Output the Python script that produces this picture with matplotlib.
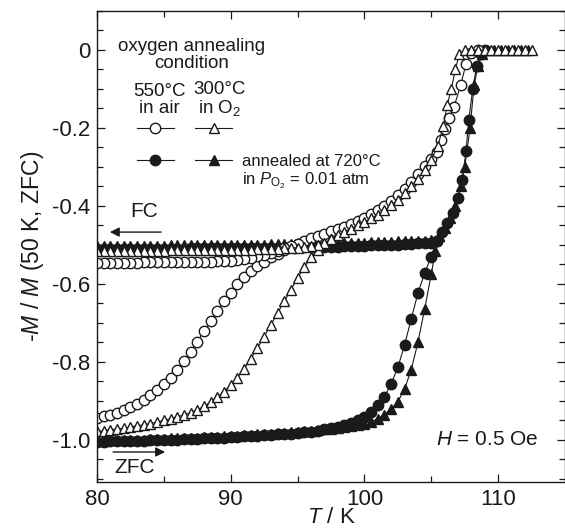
import matplotlib
matplotlib.use('Agg')
import matplotlib.pyplot as plt
from matplotlib.lines import Line2D
import numpy as np

plt.rcParams['font.family'] = ['Liberation Sans', 'DejaVu Sans']
plt.rcParams['mathtext.fontset'] = 'custom'
plt.rcParams['mathtext.rm'] = 'Liberation Sans'
plt.rcParams['mathtext.it'] = 'Liberation Sans:italic'
plt.rcParams['axes.unicode_minus'] = False

# ---- data: -M/M(50K,ZFC) vs T (K) ----
# each sample: ZFC branch (rising), reversible part (common), FC branch (cooling)

# 550 C in air (open circles)
A_zfc_T = [80.0, 80.5, 81.0, 81.5, 82.0, 82.5, 83.0, 83.5, 84.0, 84.5,
           85.0, 85.5, 86.0, 86.5, 87.0, 87.5, 88.0, 88.5, 89.0, 89.5,
           90.0, 90.5, 91.0, 91.5, 92.0, 92.5, 93.0, 93.5, 94.0, 94.5]
A_zfc_M = [-0.945, -0.940, -0.935, -0.930, -0.924, -0.916, -0.907, -0.897, -0.886, -0.872,
           -0.857, -0.840, -0.820, -0.798, -0.775, -0.748, -0.722, -0.696, -0.670, -0.645,
           -0.622, -0.600, -0.583, -0.568, -0.555, -0.543, -0.532, -0.522, -0.513, -0.505]
A_rev_T = [95.0, 95.5, 96.0, 96.5, 97.0, 97.5, 98.0, 98.5, 99.0, 99.5,
           100.0, 100.5, 101.0, 101.5, 102.0, 102.5, 103.0, 103.5, 104.0, 104.5,
           105.0, 105.4, 105.7, 106.0, 106.3, 106.7, 107.2, 107.6, 108.0, 108.5]
A_rev_M = [-0.497, -0.490, -0.483, -0.477, -0.471, -0.465, -0.459, -0.453, -0.447, -0.439,
           -0.430, -0.421, -0.411, -0.400, -0.387, -0.372, -0.356, -0.338, -0.318, -0.298,
           -0.280, -0.262, -0.232, -0.202, -0.175, -0.146, -0.090, -0.035, -0.008, 0.0]
A_fc_T = [94.5, 94.0, 93.5, 93.0, 92.5, 92.0, 91.5, 91.0, 90.5, 90.0,
          89.5, 89.0, 88.5, 88.0, 87.5, 87.0, 86.5, 86.0, 85.5, 85.0,
          84.5, 84.0, 83.5, 83.0, 82.5, 82.0, 81.5, 81.0, 80.5, 80.0]
A_fc_M = [-0.503, -0.509, -0.515, -0.520, -0.525, -0.529, -0.533, -0.536, -0.538, -0.540,
          -0.541, -0.542, -0.543, -0.543, -0.544, -0.544, -0.544, -0.545, -0.545, -0.545,
          -0.545, -0.545, -0.545, -0.546, -0.546, -0.546, -0.546, -0.546, -0.546, -0.546]

# 300 C in O2 (open triangles)
B_zfc_T = [80.0, 80.5, 81.0, 81.5, 82.0, 82.5, 83.0, 83.5, 84.0, 84.5,
           85.0, 85.5, 86.0, 86.5, 87.0, 87.5, 88.0, 88.5, 89.0, 89.5,
           90.0, 90.5, 91.0, 91.5, 92.0, 92.5, 93.0, 93.5, 94.0, 94.5,
           95.0, 95.5, 96.0, 96.5, 97.0]
B_zfc_M = [-0.978, -0.976, -0.974, -0.972, -0.970, -0.967, -0.964, -0.961, -0.958, -0.954,
           -0.950, -0.946, -0.941, -0.936, -0.930, -0.923, -0.914, -0.903, -0.890, -0.876,
           -0.860, -0.840, -0.818, -0.792, -0.764, -0.735, -0.705, -0.675, -0.645, -0.615,
           -0.585, -0.557, -0.532, -0.512, -0.497]
B_rev_T = [97.5, 98.0, 98.5, 99.0, 99.5, 100.0, 100.5, 101.0, 101.5, 102.0,
           102.5, 103.0, 103.5, 104.0, 104.5, 105.0, 105.5, 105.9, 106.2, 106.5,
           106.8, 107.1, 107.5, 108.0, 108.5, 109.0, 109.5, 110.0, 110.5, 111.0,
           111.5, 112.0, 112.5]
B_rev_M = [-0.485, -0.475, -0.466, -0.458, -0.450, -0.441, -0.432, -0.422, -0.411, -0.398,
           -0.384, -0.368, -0.350, -0.330, -0.308, -0.282, -0.245, -0.195, -0.140, -0.100,
           -0.050, -0.010, 0.0, 0.0, 0.0, 0.0, 0.0, 0.0, 0.0, 0.0,
           0.0, 0.0, 0.0]
B_fc_T = [97.0, 96.5, 96.0, 95.5, 95.0, 94.5, 94.0, 93.5, 93.0, 92.5,
          92.0, 91.5, 91.0, 90.5, 90.0, 89.5, 89.0, 88.5, 88.0, 87.5,
          87.0, 86.5, 86.0, 85.5, 85.0, 84.5, 84.0, 83.5, 83.0, 82.5,
          82.0, 81.5, 81.0, 80.5, 80.0]
B_fc_M = [-0.496, -0.500, -0.503, -0.505, -0.507, -0.508, -0.509, -0.510, -0.510, -0.511,
          -0.511, -0.512, -0.512, -0.512, -0.513, -0.513, -0.513, -0.513, -0.514, -0.514,
          -0.514, -0.514, -0.514, -0.514, -0.515, -0.515, -0.515, -0.515, -0.515, -0.515,
          -0.515, -0.515, -0.515, -0.515, -0.515]

# 720 C in PO2 = 0.01 atm (filled circles)
C_zfc_T = [80.0, 80.5, 81.0, 81.5, 82.0, 82.5, 83.0, 83.5, 84.0, 84.5,
           85.0, 85.5, 86.0, 86.5, 87.0, 87.5, 88.0, 88.5, 89.0, 89.5,
           90.0, 90.5, 91.0, 91.5, 92.0, 92.5, 93.0, 93.5, 94.0, 94.5,
           95.0, 95.5, 96.0, 96.5, 97.0, 97.5, 98.0, 98.5, 99.0, 99.5,
           100.0, 100.5, 101.0, 101.5, 102.0, 102.5, 103.0, 103.5, 104.0, 104.5,
           105.0]
C_zfc_M = [-1.005, -1.005, -1.004, -1.004, -1.003, -1.003, -1.002, -1.002, -1.001, -1.000,
           -1.000, -0.999, -0.999, -0.998, -0.997, -0.997, -0.996, -0.995, -0.995, -0.994,
           -0.993, -0.992, -0.991, -0.990, -0.989, -0.988, -0.987, -0.986, -0.985, -0.984,
           -0.983, -0.981, -0.979, -0.976, -0.973, -0.970, -0.966, -0.962, -0.957, -0.950,
           -0.941, -0.928, -0.910, -0.889, -0.856, -0.814, -0.757, -0.690, -0.624, -0.572,
           -0.530]
C_rev_T = [105.4, 105.8, 106.2, 106.6, 107.0, 107.3, 107.6, 107.8, 108.1, 108.4, 108.7, 109.0]
C_rev_M = [-0.490, -0.466, -0.444, -0.418, -0.380, -0.333, -0.260, -0.180, -0.100, -0.040, -0.010, 0.0]
C_fc_T = [105.0, 104.5, 104.0, 103.5, 103.0, 102.5, 102.0, 101.5, 101.0, 100.5,
          100.0, 99.5, 99.0, 98.5, 98.0, 97.5, 97.0, 96.5, 96.0, 95.5,
          95.0, 94.5, 94.0, 93.5, 93.0, 92.5, 92.0, 91.5, 91.0, 90.5,
          90.0, 89.5, 89.0, 88.5, 88.0, 87.5, 87.0, 86.5, 86.0, 85.5,
          85.0, 84.5, 84.0, 83.5, 83.0, 82.5, 82.0, 81.5, 81.0, 80.5,
          80.0]
C_fc_M = [-0.494, -0.495, -0.496, -0.497, -0.498, -0.499, -0.500, -0.500, -0.501, -0.501,
          -0.502, -0.502, -0.503, -0.503, -0.504, -0.504, -0.505, -0.505, -0.505, -0.506,
          -0.506, -0.506, -0.507, -0.507, -0.507, -0.507, -0.508, -0.508, -0.508, -0.508,
          -0.508, -0.509, -0.509, -0.509, -0.509, -0.509, -0.509, -0.510, -0.510, -0.510,
          -0.510, -0.510, -0.510, -0.510, -0.510, -0.510, -0.510, -0.510, -0.510, -0.510,
          -0.510]

# 720 C in PO2 = 0.01 atm (filled triangles)
D_zfc_T = [80.0, 80.5, 81.0, 81.5, 82.0, 82.5, 83.0, 83.5, 84.0, 84.5,
           85.0, 85.5, 86.0, 86.5, 87.0, 87.5, 88.0, 88.5, 89.0, 89.5,
           90.0, 90.5, 91.0, 91.5, 92.0, 92.5, 93.0, 93.5, 94.0, 94.5,
           95.0, 95.5, 96.0, 96.5, 97.0, 97.5, 98.0, 98.5, 99.0, 99.5,
           100.0, 100.5, 101.0, 101.5, 102.0, 102.5, 103.0, 103.5, 104.0, 104.5,
           105.0, 105.3]
D_zfc_M = [-1.002, -1.002, -1.001, -1.001, -1.000, -1.000, -0.999, -0.999, -0.998, -0.997,
           -0.997, -0.996, -0.996, -0.995, -0.994, -0.994, -0.993, -0.992, -0.992, -0.991,
           -0.990, -0.989, -0.988, -0.987, -0.986, -0.985, -0.984, -0.983, -0.982, -0.981,
           -0.980, -0.978, -0.977, -0.975, -0.973, -0.971, -0.969, -0.967, -0.965, -0.962,
           -0.958, -0.953, -0.946, -0.935, -0.921, -0.902, -0.870, -0.820, -0.750, -0.665,
           -0.575, -0.515]
D_rev_T = [105.6, 106.0, 106.4, 106.8, 107.2, 107.5, 107.9, 108.2, 108.5, 108.8,
           109.2, 109.7, 110.2, 110.7, 111.2, 111.7, 112.2]
D_rev_M = [-0.478, -0.456, -0.430, -0.400, -0.350, -0.300, -0.200, -0.090, -0.040, -0.010,
           0.0, 0.0, 0.0, 0.0, 0.0, 0.0, 0.0]
D_fc_T = [105.0, 104.5, 104.0, 103.5, 103.0, 102.5, 102.0, 101.5, 101.0, 100.5,
          100.0, 99.5, 99.0, 98.5, 98.0, 97.5, 97.0, 96.5, 96.0, 95.5,
          95.0, 94.5, 94.0, 93.5, 93.0, 92.5, 92.0, 91.5, 91.0, 90.5,
          90.0, 89.5, 89.0, 88.5, 88.0, 87.5, 87.0, 86.5, 86.0, 85.5,
          85.0, 84.5, 84.0, 83.5, 83.0, 82.5, 82.0, 81.5, 81.0, 80.5,
          80.0]
D_fc_M = [-0.488, -0.489, -0.490, -0.490, -0.491, -0.491, -0.492, -0.492, -0.493, -0.493,
          -0.494, -0.494, -0.495, -0.495, -0.495, -0.496, -0.496, -0.496, -0.497, -0.497,
          -0.497, -0.498, -0.498, -0.498, -0.498, -0.499, -0.499, -0.499, -0.499, -0.500,
          -0.500, -0.500, -0.500, -0.500, -0.501, -0.501, -0.501, -0.501, -0.501, -0.501,
          -0.502, -0.502, -0.502, -0.502, -0.502, -0.502, -0.502, -0.502, -0.502, -0.502,
          -0.502]

y_ticks = [0, -0.2, -0.4, -0.6, -0.8, -1.0]
y_ticklabels = ['0', '-0.2', '-0.4', '-0.6', '-0.8', '-1.0']
x_ticks = [80, 90, 100, 110]

ink = '#1a1a1a'
fig = plt.figure(figsize=(5.65, 5.3), dpi=100)
ax = fig.add_axes([97/565, 48/530, 468/565, 471/530])

def draw(zT, zM, rT, rM, fT, fM, marker, filled, ms):
    style = dict(color=ink, lw=0.8, marker=marker, ms=ms, mec=ink, mew=1.0,
                 mfc=ink if filled else 'white')
    ax.plot(np.r_[zT, rT], np.r_[zM, rM], **style)
    ax.plot(np.r_[rT[0], fT], np.r_[rM[0], fM], **style)

draw(C_zfc_T, C_zfc_M, C_rev_T, C_rev_M, C_fc_T, C_fc_M, 'o', True, 7.5)
draw(D_zfc_T, D_zfc_M, D_rev_T, D_rev_M, D_fc_T, D_fc_M, '^', True, 7.5)
draw(A_zfc_T, A_zfc_M, A_rev_T, A_rev_M, A_fc_T, A_fc_M, 'o', False, 7.5)
draw(B_zfc_T, B_zfc_M, B_rev_T, B_rev_M, B_fc_T, B_fc_M, '^', False, 7)

ax.set_xlim(80, 115)
ax.set_ylim(-1.108, 0.1)
ax.set_xticks(x_ticks)
ax.set_xticks(np.arange(85, 115, 10), minor=True)
ax.set_yticks(y_ticks)
ax.set_yticklabels(y_ticklabels)
ax.set_yticks(np.arange(-1.1, 0.1, 0.05), minor=True)
ax.tick_params(which='both', direction='in', top=True, right=True, color=ink,
               labelsize=16, labelcolor=ink, width=0.9)
ax.tick_params(which='major', length=6, pad=5)
ax.tick_params(which='minor', length=4)
for s in ax.spines.values():
    s.set_color(ink)
    s.set_linewidth(1.0)

ax.set_xlabel('$T$ / K', fontsize=16, color=ink, labelpad=-2)
ax.set_ylabel('-$M$ / $M$ (50 K, ZFC)', fontsize=16.5, color=ink, labelpad=4)

# legend block
ax.text(0.203, 0.9066, 'oxygen annealing\ncondition', transform=ax.transAxes,
        ha='center', va='center', fontsize=13.5, color=ink, linespacing=1.0)
ax.text(0.1325, 0.812, '550°C\nin air', transform=ax.transAxes,
        ha='center', va='center', fontsize=13.5, color=ink, linespacing=1.0)
ax.text(0.2628, 0.812, '300°C\nin O$_2$', transform=ax.transAxes,
        ha='center', va='center', fontsize=13.5, color=ink, linespacing=1.0)

h_oc = Line2D([], [], color=ink, lw=0.8, marker='o', ms=7.5, mfc='white', mec=ink, mew=1.0)
h_fc = Line2D([], [], color=ink, lw=0.8, marker='o', ms=7.5, mfc=ink, mec=ink, mew=1.0)
h_ot = Line2D([], [], color=ink, lw=0.8, marker='^', ms=6.5, mfc='white', mec=ink, mew=1.0)
h_ft = Line2D([], [], color=ink, lw=0.8, marker='^', ms=6.5, mfc=ink, mec=ink, mew=1.0)
leg = ax.legend([h_oc, h_fc, h_ot, h_ft], ['', '', '', 'annealed at 720°C'], ncol=2,
                loc='upper left', bbox_to_anchor=(0.0855, 0.7656), frameon=False,
                handlelength=2.2, handletextpad=0.6, columnspacing=0.7,
                labelspacing=1.05, borderpad=0, borderaxespad=0,
                prop=dict(size=12))
for t in leg.get_texts():
    t.set_color(ink)
ax.text(0.31, 0.639, 'in $P_{\\mathrm{O_2}}$ = 0.01 atm', transform=ax.transAxes,
        ha='left', va='center', fontsize=12, color=ink)

# FC / ZFC arrows
ax.annotate('', xy=(80.75, -0.467), xytext=(85.0, -0.467),
            arrowprops=dict(arrowstyle='-|>', color=ink, lw=1.0, mutation_scale=14))
ax.text(83.5, -0.415, 'FC', ha='center', va='center', fontsize=15, color=ink)
ax.annotate('', xy=(85.3, -1.031), xytext=(81.0, -1.031),
            arrowprops=dict(arrowstyle='-|>', color=ink, lw=1.0, mutation_scale=14))
ax.text(82.85, -1.072, 'ZFC', ha='center', va='center', fontsize=15, color=ink)

ax.text(109.2, -1.0, '$H$ = 0.5 Oe', ha='center', va='center', fontsize=15, color=ink)

fig.savefig('out.png', dpi=100)
